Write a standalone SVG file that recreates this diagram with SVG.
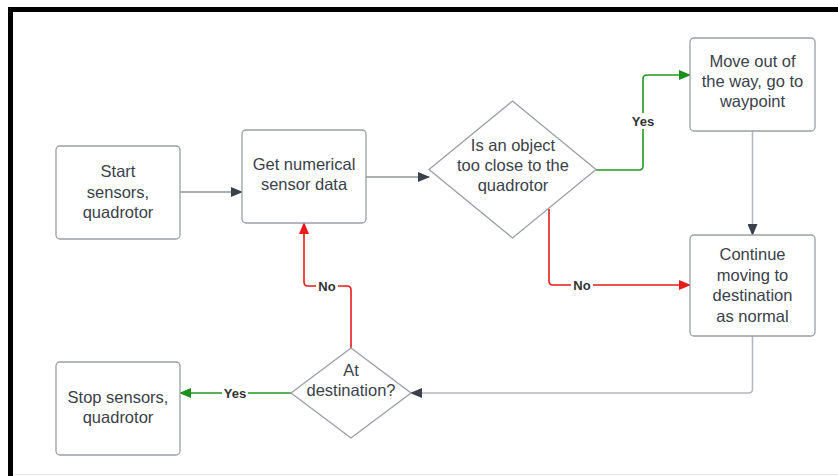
<svg xmlns="http://www.w3.org/2000/svg" width="838" height="476" viewBox="0 0 838 476">
<defs>
<style>
.node{fill:#fff;stroke:#9a9ea5;stroke-width:1.3}
.t{font-family:"Liberation Sans",Arial,sans-serif;font-size:16.5px;fill:#3a414a;text-anchor:middle}
.lbl{font-family:"Liberation Sans",Arial,sans-serif;font-size:13px;font-weight:bold;fill:#333;text-anchor:middle}
.c{fill:none;stroke-width:1.6;stroke-linejoin:round}
.gray{stroke:#8e939a}
.lgray{stroke:#b5b8bc}
.green{stroke:#1f9a1f}
.red{stroke:#e81b1b}
</style>
<marker id="ag" markerWidth="12" markerHeight="10" refX="11" refY="5" orient="auto" markerUnits="userSpaceOnUse"><path d="M0,0 L12,5 L0,10 Z" fill="#3a414a"/></marker>
<marker id="agr" markerWidth="12" markerHeight="10" refX="11" refY="5" orient="auto" markerUnits="userSpaceOnUse"><path d="M0,0 L12,5 L0,10 Z" fill="#1a8f1a"/></marker>
<marker id="ar" markerWidth="12" markerHeight="10" refX="11" refY="5" orient="auto" markerUnits="userSpaceOnUse"><path d="M0,0 L12,5 L0,10 Z" fill="#e81b1b"/></marker>
</defs>
<rect width="838" height="476" fill="#fff"/>
<path d="M10.5 476 V9.5 H838" fill="none" stroke="#000" stroke-width="5"/>
<line x1="14" y1="474.5" x2="838" y2="474.5" stroke="#e6e6e6" stroke-width="1"/>

<g id="connectors">
<path class="c gray" d="M180 192 H242" marker-end="url(#ag)"/>
<path class="c gray" d="M366 177 H429" marker-end="url(#ag)"/>
<path class="c green" d="M596 170 H639 Q643 170 643 166 V79 Q643 75 647 75 H690" marker-end="url(#agr)"/>
<path class="c red" d="M549 209 V281 Q549 285 553 285 H690" marker-end="url(#ar)"/>
<path class="c lgray" d="M752.5 131 V235" marker-end="url(#ag)"/>
<path class="c lgray" d="M752.5 336 V389 Q752.5 393 748.5 393 H411" marker-end="url(#ag)"/>
<path class="c red" d="M351 348 V290 Q351 286 347 286 H308 Q304 286 304 282 V223" marker-end="url(#ar)"/>
<path class="c green" d="M291 393 H180" marker-end="url(#agr)"/>
<rect x="630" y="113" width="26" height="16" fill="#fff"/>
<text class="lbl" x="643" y="125.5">Yes</text>
<rect x="571" y="278" width="22" height="14" fill="#fff"/>
<text class="lbl" x="582" y="289.5">No</text>
<rect x="316" y="279" width="22" height="14" fill="#fff"/>
<text class="lbl" x="327" y="290.5">No</text>
<rect x="222" y="385" width="26" height="14" fill="#fff"/>
<text class="lbl" x="235" y="397.5">Yes</text>
</g>

<g id="start">
<rect class="node" x="56" y="146" width="124" height="93" rx="4"/>
<text class="t" x="118" y="177">Start</text>
<text class="t" x="118" y="197.5">sensors,</text>
<text class="t" x="118" y="218">quadrotor</text>
</g>
<g id="get-data">
<rect class="node" x="242" y="130" width="124" height="93" rx="4"/>
<text class="t" x="304" y="170">Get numerical</text>
<text class="t" x="304" y="190">sensor data</text>
</g>
<g id="object-close">
<polygon class="node" points="512.5,101 596,169.5 512.5,238 429,169.5"/>
<text class="t" x="513" y="151">Is an object</text>
<text class="t" x="513" y="171">too close to the</text>
<text class="t" x="513" y="190.5">quadrotor</text>
</g>
<g id="move-out">
<rect class="node" x="690" y="38" width="125" height="93" rx="4"/>
<text class="t" x="752.5" y="67">Move out of</text>
<text class="t" x="752.5" y="87">the way, go to</text>
<text class="t" x="752.5" y="107">waypoint</text>
</g>
<g id="continue">
<rect class="node" x="690" y="235" width="125" height="101" rx="4"/>
<text class="t" x="752.5" y="260">Continue</text>
<text class="t" x="752.5" y="281">moving to</text>
<text class="t" x="752.5" y="301">destination</text>
<text class="t" x="752.5" y="322">as normal</text>
</g>
<g id="at-destination">
<polygon class="node" points="351,348 411,393 351,438 291,393"/>
<text class="t" x="351" y="376">At</text>
<text class="t" x="351" y="396">destination?</text>
</g>
<g id="stop">
<rect class="node" x="56" y="362" width="124" height="93" rx="4"/>
<text class="t" x="118" y="403">Stop sensors,</text>
<text class="t" x="118" y="423">quadrotor</text>
</g>
</svg>
